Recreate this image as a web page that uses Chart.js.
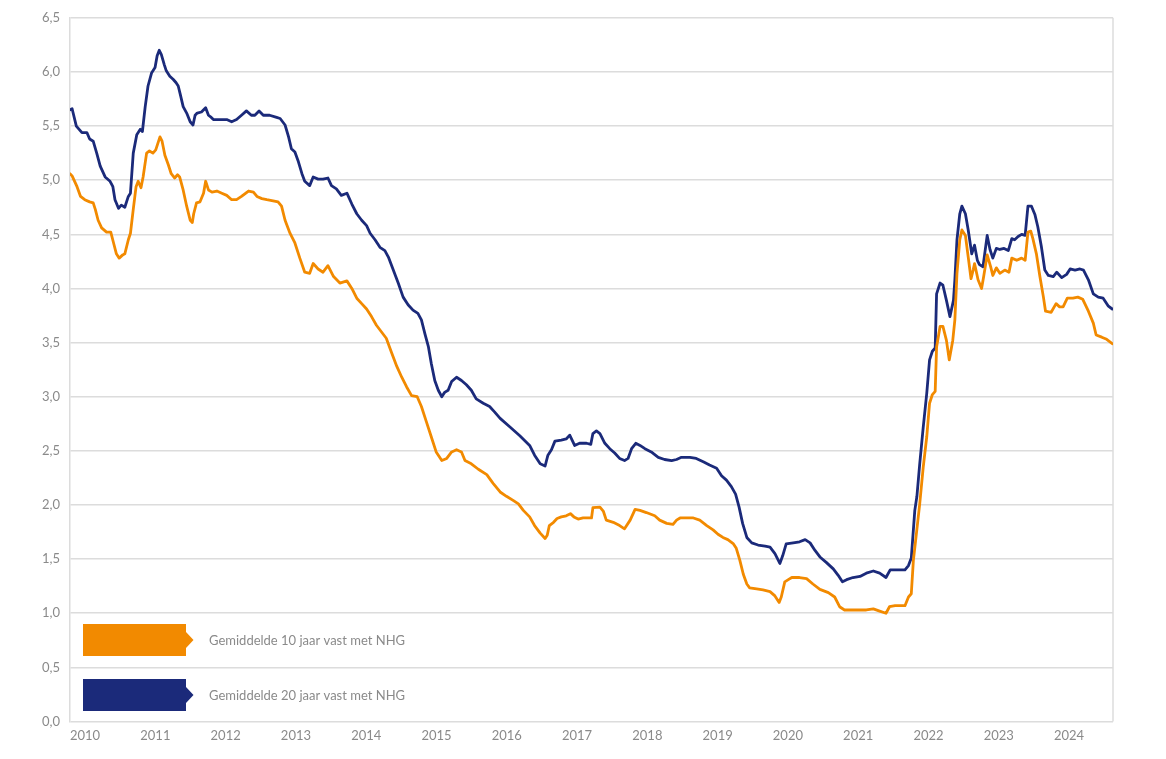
<!DOCTYPE html>
<html>
<head>
<meta charset="utf-8">
<script src="https://cdn.jsdelivr.net/npm/chart.js@4.4.1/dist/chart.umd.min.js"></script>
<style>
  html, body { margin: 0; padding: 0; background: #fff; }
  #wrap { width: 1166px; height: 759px; }
</style>
</head>
<body>
<div id="wrap"><canvas id="rente"></canvas></div>
<script>
// jaartallen op de x-as
const jaren = [2010, 2011, 2012, 2013, 2014, 2015, 2016, 2017, 2018, 2019, 2020, 2021, 2022, 2023, 2024];

// tijdstippen (decimale jaren) en rentes
const tienJaarTijd = [2010.00,2010.03,2010.10,2010.15,2010.21,2010.28,2010.33,2010.36,2010.40,2010.45,2010.52,2010.58,2010.62,2010.66,2010.70,2010.75,2010.78,2010.83,2010.86,2010.90,2010.94,2010.97,2011.01,2011.04,2011.09,2011.13,2011.18,2011.22,2011.25,2011.28,2011.31,2011.35,2011.40,2011.44,2011.49,2011.53,2011.56,2011.61,2011.66,2011.71,2011.74,2011.76,2011.80,2011.85,2011.90,2011.93,2011.97,2012.02,2012.09,2012.16,2012.23,2012.30,2012.37,2012.44,2012.54,2012.61,2012.66,2012.73,2012.80,2012.89,2012.96,2013.01,2013.06,2013.13,2013.20,2013.27,2013.34,2013.41,2013.46,2013.53,2013.60,2013.67,2013.75,2013.84,2013.94,2014.01,2014.08,2014.15,2014.22,2014.29,2014.36,2014.43,2014.50,2014.58,2014.65,2014.72,2014.79,2014.86,2014.94,2015.00,2015.07,2015.14,2015.21,2015.29,2015.36,2015.43,2015.50,2015.57,2015.62,2015.71,2015.81,2015.93,2016.02,2016.12,2016.21,2016.31,2016.38,2016.45,2016.54,2016.61,2016.69,2016.76,2016.79,2016.82,2016.88,2016.93,2016.99,2017.06,2017.12,2017.17,2017.23,2017.30,2017.42,2017.44,2017.54,2017.59,2017.63,2017.73,2017.82,2017.89,2017.97,2018.04,2018.11,2018.20,2018.32,2018.39,2018.49,2018.58,2018.63,2018.68,2018.87,2018.96,2019.06,2019.15,2019.22,2019.29,2019.36,2019.44,2019.48,2019.53,2019.58,2019.63,2019.67,2019.77,2019.86,2019.96,2020.03,2020.09,2020.12,2020.17,2020.22,2020.27,2020.38,2020.48,2020.57,2020.67,2020.79,2020.88,2020.95,2021.02,2021.19,2021.33,2021.43,2021.52,2021.61,2021.66,2021.74,2021.88,2021.93,2021.97,2022.00,2022.04,2022.09,2022.14,2022.19,2022.23,2022.27,2022.31,2022.33,2022.38,2022.42,2022.47,2022.51,2022.56,2022.59,2022.62,2022.66,2022.69,2022.74,2022.78,2022.82,2022.85,2022.87,2022.92,2022.97,2023.00,2023.05,2023.10,2023.13,2023.18,2023.23,2023.30,2023.36,2023.40,2023.47,2023.54,2023.59,2023.63,2023.67,2023.70,2023.75,2023.80,2023.85,2023.88,2023.96,2024.03,2024.08,2024.13,2024.19,2024.27,2024.34,2024.41,2024.49,2024.56,2024.60,2024.68,2024.75,2024.83];
const tienJaarRente = [5.06,5.04,4.94,4.85,4.82,4.80,4.79,4.73,4.63,4.56,4.52,4.52,4.42,4.32,4.28,4.31,4.32,4.45,4.51,4.73,4.94,4.99,4.93,5.03,5.25,5.27,5.25,5.28,5.34,5.40,5.36,5.23,5.14,5.06,5.02,5.05,5.03,4.91,4.76,4.63,4.61,4.69,4.79,4.80,4.88,4.99,4.91,4.89,4.90,4.88,4.86,4.82,4.82,4.85,4.90,4.89,4.85,4.83,4.82,4.81,4.80,4.76,4.63,4.51,4.42,4.28,4.15,4.14,4.23,4.18,4.15,4.21,4.11,4.05,4.07,4.00,3.91,3.86,3.81,3.74,3.66,3.60,3.54,3.40,3.28,3.18,3.09,3.01,3.00,2.91,2.77,2.63,2.49,2.41,2.43,2.49,2.51,2.49,2.41,2.38,2.33,2.28,2.20,2.12,2.08,2.04,2.01,1.95,1.89,1.81,1.74,1.69,1.72,1.81,1.84,1.875,1.89,1.90,1.92,1.89,1.87,1.88,1.88,1.975,1.98,1.94,1.86,1.84,1.81,1.78,1.86,1.96,1.95,1.93,1.90,1.86,1.83,1.82,1.86,1.88,1.88,1.86,1.81,1.77,1.73,1.70,1.68,1.64,1.60,1.49,1.36,1.27,1.235,1.225,1.215,1.20,1.16,1.10,1.15,1.29,1.31,1.33,1.33,1.32,1.27,1.22,1.19,1.15,1.06,1.03,1.03,1.03,1.04,1.02,1.00,1.06,1.07,1.07,1.15,1.18,1.49,1.72,2.01,2.35,2.63,2.94,3.02,3.05,3.46,3.65,3.65,3.52,3.34,3.52,3.71,4.14,4.45,4.54,4.49,4.29,4.09,4.17,4.23,4.08,4.00,4.11,4.31,4.20,4.12,4.19,4.14,4.17,4.15,4.28,4.26,4.28,4.26,4.52,4.53,4.46,4.32,4.11,3.92,3.79,3.78,3.86,3.83,3.83,3.91,3.91,3.92,3.90,3.79,3.68,3.57,3.55,3.53,3.49];

const twintigJaarTijd = [2010.00,2010.03,2010.09,2010.17,2010.24,2010.28,2010.33,2010.38,2010.43,2010.50,2010.57,2010.61,2010.64,2010.69,2010.73,2010.78,2010.83,2010.86,2010.90,2010.95,2011.00,2011.03,2011.07,2011.11,2011.16,2011.21,2011.24,2011.27,2011.30,2011.34,2011.37,2011.42,2011.47,2011.51,2011.54,2011.57,2011.61,2011.66,2011.71,2011.75,2011.78,2011.81,2011.87,2011.93,2011.97,2012.01,2012.04,2012.13,2012.23,2012.30,2012.37,2012.44,2012.51,2012.58,2012.63,2012.69,2012.75,2012.84,2012.94,2012.99,2013.06,2013.11,2013.15,2013.20,2013.25,2013.30,2013.34,2013.41,2013.46,2013.53,2013.60,2013.67,2013.72,2013.79,2013.86,2013.94,2014.01,2014.08,2014.15,2014.22,2014.27,2014.34,2014.41,2014.48,2014.53,2014.60,2014.67,2014.74,2014.81,2014.88,2014.95,2015.00,2015.05,2015.10,2015.14,2015.19,2015.24,2015.29,2015.33,2015.38,2015.43,2015.50,2015.57,2015.64,2015.71,2015.78,2015.88,2015.97,2016.04,2016.12,2016.26,2016.40,2016.54,2016.61,2016.69,2016.76,2016.80,2016.85,2016.90,2016.99,2017.06,2017.11,2017.18,2017.25,2017.35,2017.41,2017.44,2017.49,2017.54,2017.61,2017.68,2017.75,2017.82,2017.89,2017.94,2017.99,2018.05,2018.11,2018.18,2018.27,2018.37,2018.46,2018.56,2018.63,2018.70,2018.82,2018.91,2019.01,2019.10,2019.20,2019.27,2019.34,2019.41,2019.47,2019.52,2019.57,2019.63,2019.70,2019.79,2019.89,2019.96,2020.03,2020.10,2020.14,2020.19,2020.29,2020.38,2020.46,2020.53,2020.60,2020.67,2020.76,2020.86,2020.93,2020.99,2021.05,2021.14,2021.24,2021.33,2021.43,2021.52,2021.61,2021.67,2021.76,2021.88,2021.93,2021.97,2022.02,2022.05,2022.09,2022.14,2022.19,2022.23,2022.27,2022.31,2022.33,2022.38,2022.42,2022.47,2022.52,2022.57,2022.59,2022.62,2022.66,2022.69,2022.74,2022.78,2022.83,2022.87,2022.91,2022.94,2022.99,2023.05,2023.09,2023.13,2023.18,2023.23,2023.29,2023.35,2023.40,2023.44,2023.49,2023.54,2023.59,2023.63,2023.68,2023.73,2023.77,2023.82,2023.87,2023.92,2023.99,2024.04,2024.11,2024.18,2024.23,2024.30,2024.37,2024.42,2024.49,2024.56,2024.63,2024.70,2024.77,2024.83];
const twintigJaarRente = [5.65,5.66,5.50,5.44,5.44,5.38,5.36,5.25,5.13,5.03,4.99,4.94,4.82,4.74,4.77,4.75,4.85,4.88,5.25,5.42,5.47,5.45,5.68,5.87,5.99,6.04,6.15,6.20,6.16,6.07,6.01,5.96,5.93,5.90,5.87,5.79,5.68,5.62,5.54,5.51,5.60,5.62,5.63,5.67,5.60,5.58,5.56,5.56,5.56,5.54,5.56,5.60,5.64,5.60,5.60,5.64,5.60,5.60,5.58,5.57,5.51,5.40,5.29,5.26,5.17,5.06,4.99,4.95,5.03,5.01,5.01,5.02,4.95,4.92,4.86,4.88,4.78,4.69,4.63,4.58,4.51,4.45,4.38,4.35,4.29,4.17,4.05,3.92,3.85,3.80,3.77,3.71,3.58,3.46,3.31,3.15,3.06,3.00,3.04,3.06,3.14,3.18,3.15,3.11,3.06,2.98,2.94,2.91,2.86,2.80,2.72,2.64,2.55,2.46,2.38,2.36,2.46,2.51,2.59,2.60,2.61,2.645,2.55,2.57,2.57,2.56,2.66,2.685,2.66,2.57,2.52,2.48,2.43,2.41,2.43,2.52,2.57,2.55,2.52,2.49,2.44,2.42,2.41,2.42,2.44,2.44,2.43,2.40,2.37,2.34,2.27,2.23,2.17,2.10,1.98,1.83,1.70,1.65,1.63,1.62,1.61,1.55,1.46,1.53,1.64,1.65,1.66,1.68,1.65,1.58,1.52,1.47,1.41,1.35,1.29,1.31,1.33,1.34,1.37,1.39,1.37,1.33,1.40,1.40,1.40,1.44,1.51,1.95,2.08,2.38,2.72,3.03,3.34,3.42,3.45,3.95,4.05,4.03,3.89,3.74,3.89,4.08,4.45,4.69,4.76,4.69,4.54,4.32,4.40,4.26,4.22,4.20,4.49,4.36,4.28,4.37,4.36,4.37,4.35,4.46,4.45,4.48,4.50,4.49,4.76,4.76,4.68,4.57,4.39,4.17,4.12,4.11,4.15,4.10,4.13,4.18,4.17,4.18,4.17,4.08,3.95,3.92,3.91,3.84,3.81];

const reeksNamen = ['Gemiddelde 10 jaar vast met NHG', 'Gemiddelde 20 jaar vast met NHG'];
const reeksKleuren = ['#F28A00', '#1B2A7A'];

function punten(tijd, rente) {
    return tijd.map(function (t, i) { return { x: t, y: rente[i] }; });
}

// legenda met pijlvormige blokjes, linksonder in het plotvlak
const pijlLegenda = {
    id: 'pijlLegenda',
    afterDraw: function (chart) {
        const ctx = chart.ctx;
        const area = chart.chartArea;
        ctx.save();
        chart.data.datasets.forEach(function (ds, i) {
            const x0 = area.left + 13;
            const y0 = area.bottom - 97.5 + i * 55;
            const w = 103, h = 32;
            const mid = y0 + h / 2;
            ctx.fillStyle = ds.borderColor;
            ctx.beginPath();
            ctx.moveTo(x0, y0);
            ctx.lineTo(x0 + w, y0);
            ctx.lineTo(x0 + w, mid - 8);
            ctx.lineTo(x0 + w + 7.5, mid);
            ctx.lineTo(x0 + w, mid + 8);
            ctx.lineTo(x0 + w, y0 + h);
            ctx.lineTo(x0, y0 + h);
            ctx.closePath();
            ctx.fill();
            ctx.fillStyle = '#8a8a8a';
            ctx.font = '13px Lato';
            ctx.textBaseline = 'middle';
            ctx.textAlign = 'left';
            ctx.fillText(ds.label, x0 + 126, mid + 0.5);
        });
        ctx.restore();
    }
};

// rechterrand van het plotvlak
const kader = {
    id: 'kader',
    beforeDatasetsDraw: function (chart) {
        const ctx = chart.ctx;
        const a = chart.chartArea;
        ctx.save();
        ctx.strokeStyle = '#dcdcdc';
        ctx.lineWidth = 1.5;
        ctx.beginPath();
        ctx.moveTo(a.right, a.top);
        ctx.lineTo(a.right, a.bottom);
        ctx.stroke();
        ctx.restore();
    }
};

const config = {
    type: 'line',
    data: {
        datasets: [
            {
                label: reeksNamen[0],
                data: punten(tienJaarTijd, tienJaarRente),
                borderColor: reeksKleuren[0],
                backgroundColor: reeksKleuren[0]
            },
            {
                label: reeksNamen[1],
                data: punten(twintigJaarTijd, twintigJaarRente),
                borderColor: reeksKleuren[1],
                backgroundColor: reeksKleuren[1]
            }
        ]
    },
    options: {
        responsive: true,
        maintainAspectRatio: false,
        animation: false,
        layout: {
            padding: { top: 17.5, right: 53, bottom: 0, left: 0 }
        },
        elements: {
            point: { radius: 0 },
            line: { borderWidth: 2.8, tension: 0, borderJoinStyle: 'round', borderCapStyle: 'round' }
        },
        scales: {
            x: {
                type: 'linear',
                min: 2010,
                max: 2024.84,
                afterFit: function (scale) { scale.height = 37.5; },
                afterBuildTicks: function (scale) {
                    scale.ticks = jaren.map(function (j) { return { value: j }; });
                },
                grid: { display: false, drawTicks: false },
                border: { display: false },
                ticks: {
                    align: 'start',
                    padding: 7,
                    color: '#8a8a8a',
                    font: { family: 'Lato', size: 13 },
                    callback: function (v) { return String(v); }
                }
            },
            y: {
                min: 0,
                max: 6.5,
                afterFit: function (scale) { scale.width = 70; },
                grid: { color: '#dcdcdc', lineWidth: 1.5, drawTicks: false },
                border: { display: true, color: '#dcdcdc', width: 1.5 },
                ticks: {
                    stepSize: 0.5,
                    padding: 10,
                    color: '#8a8a8a',
                    font: { family: 'Lato', size: 13 },
                    callback: function (v) { return v.toFixed(1).replace('.', ','); }
                }
            }
        },
        plugins: {
            legend: { display: false },
            tooltip: { enabled: false }
        }
    },
    plugins: [kader, pijlLegenda]
};

new Chart(document.getElementById('rente'), config);
</script>
</body>
</html>
